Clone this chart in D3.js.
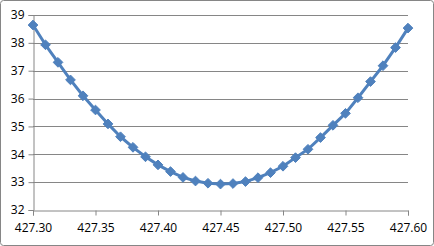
<!DOCTYPE html>
<html>
<head>
<meta charset="utf-8">
<script src="https://cdn.jsdelivr.net/npm/d3@7"></script>
<style>
  body { margin: 0; background: #fff; }
  text { font-family: "Open Sans", "Noto Sans", sans-serif; font-size: 12px; fill: #000; }
</style>
</head>
<body>
<div id="chart"></div>
<script>
const widthChart = 434;
const heightChart = 246;

const xValues = [427.30, 427.31, 427.32, 427.33, 427.34, 427.35, 427.36, 427.37, 427.38, 427.39,
                 427.40, 427.41, 427.42, 427.43, 427.44, 427.45, 427.46, 427.47, 427.48, 427.49,
                 427.50, 427.51, 427.52, 427.53, 427.54, 427.55, 427.56, 427.57, 427.58, 427.59, 427.60];
const yValues = [38.64, 37.93, 37.30, 36.67, 36.10, 35.59, 35.09, 34.63, 34.25, 33.91,
                 33.62, 33.38, 33.17, 33.04, 32.96, 32.93, 32.95, 33.02, 33.16, 33.34,
                 33.57, 33.88, 34.18, 34.60, 35.04, 35.47, 36.03, 36.61, 37.18, 37.83, 38.53];
const xTicks = [427.30, 427.35, 427.40, 427.45, 427.50, 427.55, 427.60];
const yTicks = [32, 33, 34, 35, 36, 37, 38, 39];

const plotLeft = 33, plotRight = 408, plotTop = 15, plotBottom = 210;

const svg = d3.select("#chart")
    .append("svg")
    .attr("width", widthChart)
    .attr("height", heightChart);

svg.append("rect")
    .attr("x", 0.5).attr("y", 0.5)
    .attr("width", widthChart - 1).attr("height", heightChart - 1)
    .attr("rx", 3)
    .attr("fill", "#fff")
    .attr("stroke", "#868686");

const x = d3.scaleLinear().domain([427.30, 427.60]).range([plotLeft, plotRight]);
const y = d3.scaleLinear().domain([32, 39]).range([plotBottom, plotTop]);

// gridlines
svg.append("g")
    .selectAll("line")
    .data(yTicks.slice(1))
    .enter()
    .append("line")
    .attr("x1", plotLeft).attr("x2", plotRight)
    .attr("y1", d => Math.round(y(d)) + 0.5)
    .attr("y2", d => Math.round(y(d)) + 0.5)
    .attr("stroke", "#868686");

// y axis
const yAxis = svg.append("g")
    .attr("transform", "translate(" + (plotLeft + 0.5) + ",0)")
    .call(d3.axisLeft(y).tickValues(yTicks).tickSize(5).tickPadding(4).tickFormat(d3.format("d")));

// x axis
const xAxis = svg.append("g")
    .attr("transform", "translate(0," + (plotBottom + 0.5) + ")")
    .call(d3.axisBottom(x).tickValues(xTicks).tickSize(5).tickPadding(8).tickFormat(d3.format(".2f")));

[xAxis, yAxis].forEach(a => {
    a.attr("font-size", null).attr("font-family", null);
    a.select(".domain").attr("stroke", "#868686");
    a.selectAll(".tick line").attr("stroke", "#868686");
    a.selectAll("text").attr("fill", "#000");
});

const points = xValues.map((d, i) => ({ x: d, y: yValues[i] }));

svg.append("path")
    .datum(points)
    .attr("fill", "none")
    .attr("stroke", "#4F81BD")
    .attr("stroke-width", 3)
    .attr("stroke-linejoin", "round")
    .attr("d", d3.line().x(d => x(d.x)).y(d => y(d.y)));

svg.append("g")
    .selectAll("path")
    .data(points)
    .enter()
    .append("path")
    .attr("transform", d => "translate(" + x(d.x) + "," + y(d.y) + ")")
    .attr("d", d3.symbol().type(d3.symbolDiamond2).size(60))
    .attr("fill", "#4F81BD")
    .attr("stroke", "#4F81BD")
    .attr("stroke-width", 1);
</script>
</body>
</html>
